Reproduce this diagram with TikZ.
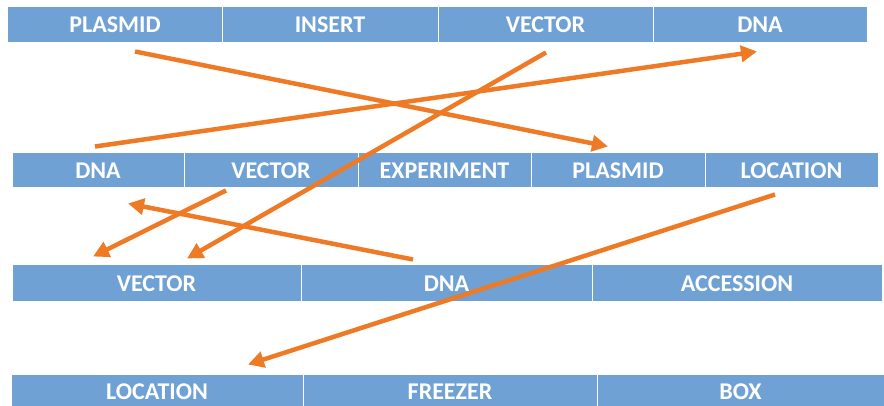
\documentclass[tikz,border=0pt]{standalone}
\usepackage{fontspec}
\setmainfont{Carlito}
\usetikzlibrary{arrows.meta}
\definecolor{cellblue}{HTML}{6FA1D4}
\definecolor{arrorange}{HTML}{EE7A26}
\tikzset{
  cell/.style={rectangle, fill=cellblue, draw=white, line width=1pt, inner sep=0pt,
    text=white, font=\fontsize{24}{24}\selectfont\bfseries, text height=15.5pt, text depth=0pt},
  link/.style={draw=arrorange, line width=4.5pt, -{Triangle[length=16pt,width=16pt]}}
}
\begin{document}
\begin{tikzpicture}[x=1pt,y=-1pt]
\useasboundingbox (0,0) rectangle (884,406);
\begin{scope}
\clip (0,0) rectangle (884,406);
% row 1
\node[cell, minimum width=215pt, minimum height=36pt] (r1a) at (115,25) {PLASMID};
\node[cell, minimum width=216pt, minimum height=36pt] (r1b) at (330,25) {INSERT};
\node[cell, minimum width=215pt, minimum height=36pt] (r1c) at (545.5,25) {VECTOR};
\node[cell, minimum width=214pt, minimum height=36pt] (r1d) at (760,25) {DNA};
% row 2
\node[cell, minimum width=172pt, minimum height=35pt] (r2a) at (98,170.5) {DNA};
\node[cell, minimum width=174pt, minimum height=35pt] (r2b) at (271,170.5) {VECTOR};
\node[cell, minimum width=173pt, minimum height=35pt] (r2c) at (444.5,170.5) {EXPERIMENT};
\node[cell, minimum width=174pt, minimum height=35pt] (r2d) at (618,170.5) {PLASMID};
\node[cell, minimum width=173pt, minimum height=35pt] (r2e) at (791.5,170.5) {LOCATION};
% row 3
\node[cell, minimum width=289pt, minimum height=37pt] (r3a) at (156.5,283.5) {VECTOR};
\node[cell, minimum width=291pt, minimum height=37pt] (r3b) at (446.5,283.5) {DNA};
\node[cell, minimum width=290pt, minimum height=37pt] (r3c) at (737,283.5) {ACCESSION};
% row 4
\node[cell, minimum width=292pt, minimum height=36pt] (r4a) at (157,392) {LOCATION};
\node[cell, minimum width=294pt, minimum height=36pt] (r4b) at (450,392) {FREEZER};
\node[cell, minimum width=287pt, minimum height=36pt] (r4c) at (740.5,392) {BOX};
% arrows
\draw[link] ([shift={(20,8)}]r1a.south) -- ([shift={(-10,-6)}]r2d.north);
\draw[link] ([shift={(-3,-6)}]r2a.north) -- ([shift={(-3,8)}]r1d.south);
\draw[link] ([shift={(0.5,9)}]r1c.south) -- ([shift={(30.5,-6)}]r3a.north);
\draw[link] ([shift={(-45,2)}]r2b.south) -- ([shift={(-63.5,-8)}]r3a.north);
\draw[link] ([shift={(-33.5,-5)}]r3b.north) -- ([shift={(30,15)}]r2a.south);
\draw[link] ([shift={(-16.5,6)}]r2e.south) -- ([shift={(91,-9)}]r4a.north);
\end{scope}
\end{tikzpicture}
\end{document}
